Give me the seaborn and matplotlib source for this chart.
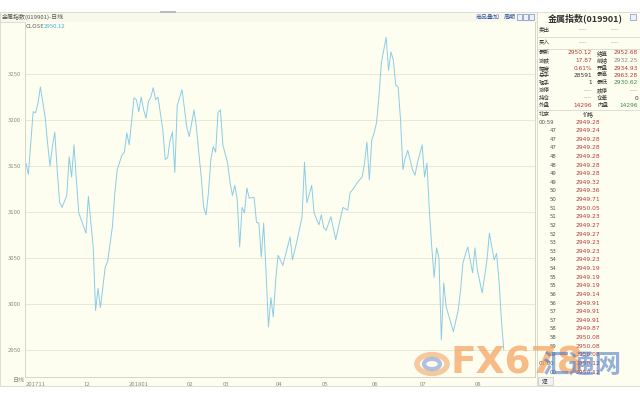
import matplotlib
matplotlib.use("Agg")
import matplotlib.pyplot as plt
from matplotlib.patches import Rectangle, Circle
import seaborn as sns

# daily close of the metal index, x = trading day counted from start of Nov 2017
DAY = [0, 1, 3, 4, 5, 6, 8, 9, 10, 11, 12, 13, 14, 15, 17, 18, 19, 20, 21, 22,
       25, 26, 28, 29, 30, 31, 33, 34, 36, 37, 38, 40, 41, 42, 43, 45, 46, 47, 48, 49,
       50, 51, 52, 53, 54, 55, 57, 58, 59, 60, 61, 62, 63, 65, 67, 68, 70, 71, 72, 73,
       74, 75, 76, 77, 78, 79, 80, 81, 82, 84, 85, 86, 87, 88, 89, 90, 91, 92, 93, 95,
       96, 97, 98, 99, 100, 101, 102, 103, 104, 105, 107, 110, 111, 113, 115, 116, 117, 119, 120, 122,
       123, 124, 125, 127, 129, 132, 134, 135, 136, 138, 139, 140, 141, 142, 143, 144, 145, 146, 147, 148,
       150, 151, 152, 153, 154, 155, 156, 157, 158, 159, 161, 162, 163, 165, 166, 167, 168, 169, 170, 171,
       172, 173, 174, 175, 178, 180, 181, 182, 184, 186, 187, 188, 190, 192, 193, 195, 196, 197, 198, 199]
CLOSE = [3153, 3141, 3209, 3208, 3218, 3236, 3203, 3175, 3150, 3171, 3187, 3146, 3111, 3105, 3118, 3160, 3138, 3173, 3135, 3099,
         3077, 3117, 3062, 2993, 3017, 2996, 3040, 3046, 3084, 3120, 3146, 3162, 3165, 3186, 3173, 3224, 3222, 3209, 3225, 3211,
         3202, 3220, 3225, 3235, 3222, 3225, 3189, 3157, 3159, 3178, 3187, 3143, 3216, 3233, 3192, 3182, 3211, 3192, 3164, 3138,
         3105, 3097, 3121, 3157, 3171, 3165, 3208, 3211, 3173, 3153, 3132, 3118, 3129, 3113, 3062, 3105, 3099, 3126, 3115, 3116,
         3089, 3088, 3051, 3088, 3034, 2975, 3007, 2986, 3026, 3053, 3042, 3073, 3048, 3070, 3095, 3154, 3110, 3129, 3099, 3086,
         3097, 3083, 3080, 3095, 3070, 3105, 3102, 3121, 3124, 3132, 3135, 3138, 3153, 3176, 3135, 3178, 3186, 3197, 3225, 3262,
         3290, 3254, 3274, 3265, 3238, 3236, 3200, 3146, 3159, 3167, 3146, 3140, 3153, 3173, 3138, 3153, 3102, 3062, 3029, 3061,
         3050, 2961, 3023, 2997, 2970, 2993, 3015, 3045, 3062, 3034, 3061, 3037, 3012, 3048, 3077, 3048, 3055, 3026, 2983, 2950.12]

MONTH_DAY = [0, 24, 43, 67, 82, 104, 123, 144, 164, 187]
MONTH_LABEL = ['201711', '12', '201801', '02', '03', '04', '05', '06', '07', '08']
Y_TICKS = [2950, 3000, 3050, 3100, 3150, 3200, 3250]

QUOTE_NAME = ['卖出', '买入', '最新', '涨跌', '幅度', '总手', '现手', '涨停', '持仓', '外盘']
QUOTE_VALUE = ['----', '----', '2950.12', '17.87', '0.61%', '28591', '1', '----', '----', '14296']
QUOTE_NAME2 = ['', '', '结算', '前结', '开盘', '最高', '最低', '跌停', '仓差', '内盘']
QUOTE_VALUE2 = ['----', '----', '2952.68', '2932.25', '2934.93', '2963.28', '2930.62', '----', '0', '14296']

TICK_TIME = ['00:59', '47', '47', '47', '48', '48', '49', '49', '50', '50', '51', '51', '52', '52', '53',
             '53', '54', '54', '55', '55', '56', '56', '57', '57', '58', '58', '59', '59', '01:00', '00']
TICK_PRICE = [2949.28, 2949.24, 2949.28, 2949.28, 2949.28, 2949.28, 2949.28, 2949.32, 2949.36, 2949.71,
              2950.05, 2949.23, 2949.27, 2949.27, 2949.23, 2949.23, 2949.23, 2949.19, 2949.19, 2949.19,
              2949.14, 2949.91, 2949.91, 2949.91, 2949.87, 2950.08, 2950.08, 2950.08, 2950.12, 2950.12]

BG = '#FEFEF0'
RED = '#B83A3A'
GREEN = '#3C8A4E'
DARK = '#333333'
GREY = '#8A8A80'
NUM_FONT = ['DejaVu Sans']

sns.set_theme(style='white')
plt.rcParams['font.family'] = ['Noto Sans CJK SC', 'DejaVu Sans']

W, H = 640, 400
fig = plt.figure(figsize=(6.4, 4), dpi=100)
fig.patch.set_facecolor('white')


def fx(x):
    return x / W


def fy(y):
    return 1 - y / H


def box(x0, y0, x1, y1, fc, ec='none', lw=0.6, z=-5):
    fig.patches.append(Rectangle((fx(x0), fy(y1)), fx(x1) - fx(x0), fy(y0) - fy(y1),
                                 transform=fig.transFigure, facecolor=fc, edgecolor=ec, lw=lw, zorder=z))


# panels
box(0, 12, 537, 386, BG, '#D8D8CC')
box(537, 12, 640, 386, BG, '#D8D8CC')
box(0, 12, 537, 22, '#F8F8EC', '#D8D8CC')
box(160, 11, 176, 13, '#BBBBBB')

ax = fig.add_axes([fx(25), fy(377), fx(535) - fx(25), fy(22) - fy(377)])
ax.set_facecolor(BG)
sns.lineplot(x=DAY, y=CLOSE, ax=ax, color='#8ACCE6', linewidth=0.7)
ax.set_xlim(-0.4, 212)
ax.set_ylim(2920.7, 3306.5)
ax.set_yticks(Y_TICKS)
ax.set_yticklabels([str(v) for v in Y_TICKS], fontsize=4.3, color=GREY)
ax.set_xticks(MONTH_DAY)
ax.set_xticklabels(MONTH_LABEL, fontsize=4.3, color=GREY, ha='left')
ax.tick_params(axis='y', direction='in', length=2.5, width=0.5, color='#C8C8B8', pad=3)
ax.tick_params(axis='x', direction='out', length=2, width=0.5, color='#C8C8B8', pad=1.5)
ax.yaxis.grid(True, color='#E6E4CF', linewidth=0.6)
ax.xaxis.grid(False)
ax.set_xlabel('')
ax.set_ylabel('')
for side, sp in ax.spines.items():
    sp.set_color('#CFCFC0')
    sp.set_linewidth(0.6)
ax.spines['top'].set_visible(False)

# header texts
fig.text(fx(2), fy(17), '金属指数(019901)-日线', fontsize=4.3, color='#555555', va='center')
fig.text(fx(26), fy(27), 'CLOSE', fontsize=4.3, color='#666666', va='center')
fig.text(fx(44), fy(27), '2950.12', fontsize=4.3, color='#3DB7D8', va='center')
fig.text(fx(13), fy(381), '日线', fontsize=4.3, color=GREY, va='center')
fig.text(fx(476), fy(17), '商品叠加', fontsize=4.3, color='#3355AA', va='center')
fig.text(fx(504), fy(17), '周期', fontsize=4.3, color='#3355AA', va='center')
for i in range(3):
    box(517 + i * 6, 14, 522 + i * 6, 20, '#EEF2FA', '#5577BB', 0.4, 3)

# right quote panel
fig.text(fx(585), fy(18), '金属指数(019901)', fontsize=6.5, color=DARK, ha='center', va='center',
         fontweight='bold')
box(630, 14, 636, 20, '#EEF2FA', '#5577BB', 0.4, 3)
row_y = [30, 43, 53, 60.5, 68, 75.5, 83, 90.5, 98, 105.5]
val_colors = ['#999999', '#999999', RED, RED, RED, DARK, DARK, '#999999', '#999999', RED]
val2_colors = ['#999999', '#999999', RED, GREY, RED, RED, GREEN, '#999999', DARK, GREEN]
for i, name in enumerate(QUOTE_NAME):
    y = row_y[i]
    fig.text(fx(539), fy(y), name, fontsize=4.0, color=DARK, va='center')
    if QUOTE_NAME2[i]:
        fig.text(fx(592), fy(y), QUOTE_VALUE[i], fontsize=4.2, color=val_colors[i], va='center',
                 ha='right', family=NUM_FONT)
        fig.text(fx(597), fy(y), QUOTE_NAME2[i], fontsize=4.0, color=DARK, va='center')
        fig.text(fx(638), fy(y), QUOTE_VALUE2[i], fontsize=4.2, color=val2_colors[i], va='center',
                 ha='right', family=NUM_FONT)
    else:
        fig.text(fx(583), fy(y), QUOTE_VALUE[i], fontsize=4.2, color='#999999', va='center',
                 ha='center', family=NUM_FONT)
        fig.text(fx(615), fy(y), QUOTE_VALUE2[i], fontsize=4.2, color='#999999', va='center',
                 ha='center', family=NUM_FONT)
for y in [37, 49, 110]:
    fig.lines.append(plt.Line2D([fx(537), fx(640)], [fy(y), fy(y)], transform=fig.transFigure,
                                color='#D8D8CC', lw=0.6))

fig.text(fx(539), fy(114.5), '北京', fontsize=4.0, color=DARK, va='center')
fig.text(fx(583), fy(114.5), '价格', fontsize=4.0, color=DARK, va='center')
step = (372 - 122) / (len(TICK_TIME) - 1)
for i, (t, p) in enumerate(zip(TICK_TIME, TICK_PRICE)):
    y = 122 + i * step
    tx = 539 if ':' in t else 550
    fig.text(fx(tx), fy(y), t, fontsize=3.9, color='#555555', va='center', family=NUM_FONT)
    fig.text(fx(600), fy(y), f'{p:.2f}', fontsize=4.3, color=RED, va='center', ha='right',
             family=NUM_FONT)
box(538, 377, 553, 385, '#F2F2F2', '#BBBBBB', 0.4, 3)
fig.text(fx(545), fy(381), '逐', fontsize=4.0, color=DARK, ha='center', va='center')

# watermarks
fig.patches.append(Circle((fx(432), fy(364)), 15 / W, transform=fig.transFigure,
                          facecolor='none', edgecolor='#F2B27A', lw=4, alpha=0.7, zorder=5))
fig.patches.append(Circle((fx(432), fy(364)), 8 / W, transform=fig.transFigure,
                          facecolor='none', edgecolor='#8FA6D6', lw=3, alpha=0.7, zorder=5))
fig.text(fx(451), fy(364), 'FX678', fontsize=27, color='#F5A260', alpha=0.72, va='center',
         fontweight='bold', family=NUM_FONT)
fig.text(fx(582), fy(366), '汇通网', fontsize=19, color='#3F72C8', alpha=0.55, va='center', ha='center',
         fontweight='bold')

fig.savefig('out.png', dpi=100, facecolor='white')
